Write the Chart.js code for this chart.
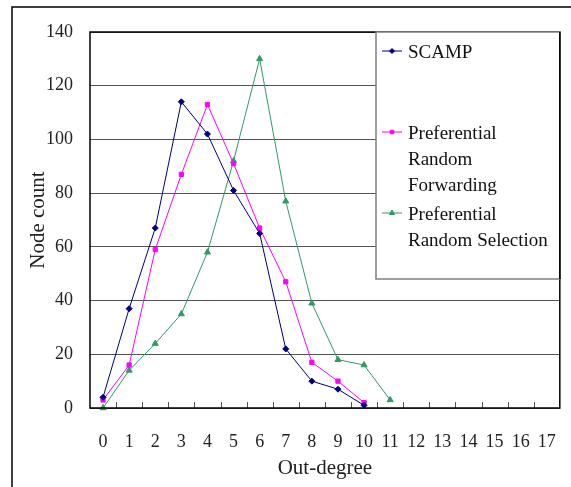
<!DOCTYPE html>
<html>
<head>
<meta charset="utf-8">
<script src="https://cdn.jsdelivr.net/npm/chart.js@4.4.1/dist/chart.umd.min.js"></script>
<style>
  body{margin:0;background:#fff}
  #myChart{display:block}
</style>
</head>
<body>
<canvas id="myChart" width="571" height="487"></canvas>
<script>
const outDegree=['0','1','2','3','4','5','6','7','8','9','10','11','12','13','14','15','16','17']
const scamp=[4,37,67,114,102,81,65,22,10,7,1]
const prefForwarding=[3,16,59,87,113,91,67,47,17,10,2]
const prefSelection=[0,14,24,35,58,92,130,77,39,18,16,3]
const seriesNames=['SCAMP','Preferential Random Forwarding','Preferential Random Selection']
// legend text is broken the same way as in the picture
const legendLines=[['SCAMP'],['Preferential','Random','Forwarding'],['Preferential','Random Selection']]
const yTicks=[0,20,40,60,80,100,120,140]

const serif='"Liberation Serif","DejaVu Serif",serif'

// outer frame, plot border, inner tick marks and the boxed legend
const framePlugin={
  id:'framePlugin',
  beforeDraw(chart){
    const ctx=chart.ctx
    ctx.save()
    ctx.fillStyle='#fff'
    ctx.fillRect(0,0,chart.width,chart.height)
    ctx.strokeStyle='#000'
    ctx.lineWidth=1.5
    ctx.strokeRect(12,7,700,700)
    ctx.restore()
  },
  afterDraw(chart){
    const ctx=chart.ctx
    const a=chart.chartArea
    const xs=chart.scales.x
    ctx.save()
    //tick marks between categories, pointing up
    ctx.strokeStyle='#555'
    ctx.lineWidth=1
    for(let i=1;i<outDegree.length;i++){
      const px=Math.round((xs.getPixelForValue(i-1)+xs.getPixelForValue(i))/2)+0.5
      ctx.beginPath()
      ctx.moveTo(px,a.bottom)
      ctx.lineTo(px,a.bottom-6)
      ctx.stroke()
    }
    ctx.strokeStyle='#000'
    ctx.lineWidth=1.5
    ctx.strokeRect(a.left,a.top,a.right-a.left,a.bottom-a.top)

    //legend
    const lx=376, ly=a.top, lw=a.right-lx, lh=247
    ctx.fillStyle='#fff'
    ctx.fillRect(lx,ly,lw,lh)
    ctx.strokeStyle='#808080'
    ctx.lineWidth=1.5
    ctx.strokeRect(lx,ly,lw,lh)
    ctx.strokeStyle='#000'
    ctx.beginPath()
    ctx.moveTo(a.right,ly)
    ctx.lineTo(a.right,ly+lh)
    ctx.stroke()
    ctx.font='19px '+serif
    ctx.textBaseline='middle'
    ctx.textAlign='left'
    chart.data.datasets.forEach((ds,i)=>{
      const y0=ly+19+i*81
      ctx.strokeStyle=ds.borderColor
      ctx.fillStyle=ds.backgroundColor
      ctx.lineWidth=1
      ctx.beginPath()
      ctx.moveTo(382,y0)
      ctx.lineTo(402,y0)
      ctx.stroke()
      Chart.helpers.drawPoint(ctx,{pointStyle:ds.pointStyle,radius:ds.pointRadius-0.5,borderWidth:1},392,y0)
      ctx.fillStyle='#111'
      legendLines[i].forEach((t,k)=>{
        ctx.fillText(t,408,y0+2+k*26)
      })
    })
    ctx.restore()
  }
}

const ctx=document.getElementById('myChart')
const myChart=new Chart(ctx,{
  type:'line',
  data:{
    labels:outDegree,
    datasets:[{
      label:seriesNames[0],
      data:scamp,
      borderColor:'#000080',
      backgroundColor:'#000080',
      pointStyle:'rectRot',
      pointRadius:3,
      borderWidth:1,
      clip:false
    },{
      label:seriesNames[1],
      data:prefForwarding,
      borderColor:'#ff00ff',
      backgroundColor:'#ff00ff',
      pointStyle:'rect',
      pointRadius:3,
      borderWidth:1,
      clip:false
    },{
      label:seriesNames[2],
      data:prefSelection,
      borderColor:'#339966',
      backgroundColor:'#339966',
      pointStyle:'triangle',
      pointRadius:3.5,
      borderWidth:1,
      clip:false
    }]
  },
  options:{
    responsive:false,
    animation:false,
    layout:{padding:{left:0,top:32,right:8.5,bottom:0}},
    elements:{line:{tension:0},point:{borderWidth:1}},
    plugins:{legend:{display:false},tooltip:{enabled:false}},
    scales:{
      x:{
        type:'category',
        offset:true,
        grid:{display:false},
        border:{display:false},
        ticks:{color:'#222',font:{family:serif,size:18},padding:15,maxRotation:0,autoSkip:false},
        title:{display:true,text:'Out-degree',color:'#222',font:{family:serif,size:21},padding:{top:0,bottom:6}},
        afterFit(scale){scale.height=79}
      },
      y:{
        type:'linear',
        min:0,
        max:140,
        afterBuildTicks(scale){scale.ticks=yTicks.map(v=>({value:v}))},
        grid:{color:'#555',lineWidth:1,drawTicks:false},
        border:{display:false},
        ticks:{color:'#222',font:{family:serif,size:18},padding:17},
        title:{display:true,text:'Node count',color:'#222',font:{family:serif,size:21},padding:{top:26,bottom:0}},
        afterFit(scale){scale.width=90}
      }
    }
  },
  plugins:[framePlugin]
})
</script>
</body>
</html>
